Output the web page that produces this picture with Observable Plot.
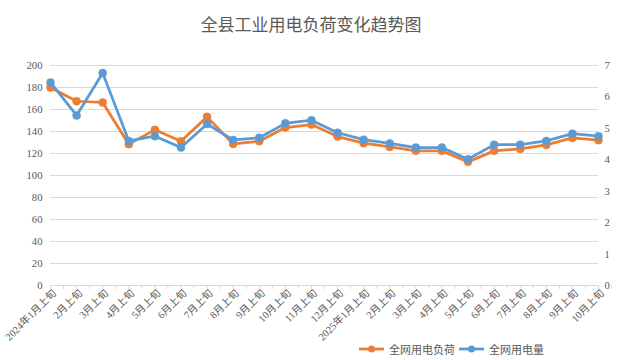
<!DOCTYPE html>
<html>
<head>
<meta charset="utf-8">
<script src="https://cdn.jsdelivr.net/npm/d3@7"></script>
<script src="https://cdn.jsdelivr.net/npm/@observablehq/plot@0.6"></script>
<style>
  body { margin: 0; background: #fff; }
  #wrap { position: relative; width: 622px; height: 360px; overflow: hidden; background: #fff; }
  #title { position: absolute; left: 0; width: 622px; top: 13px; text-align: center;
           font-family: "Noto Sans CJK SC", sans-serif; font-size: 17px; color: #595959; line-height: 22px; }
  #legend { position: absolute; top: 341px; left: 359px; display: flex; align-items: center;
            font-family: "Noto Sans CJK SC", sans-serif; font-size: 11px; color: #595959; line-height: 16px; }
  #legend .item { display: flex; align-items: center; margin-right: 4px; }
  #legend svg { margin-right: 5px; }
  #chart { position: absolute; left: 0; top: 0; }
</style>
</head>
<body>
<div id="wrap">
  <div id="chart"></div>
  <div id="title">全县工业用电负荷变化趋势图</div>
  <div id="legend"></div>
</div>
<script>
const categories = [
  "2024年1月上旬","2月上旬","3月上旬","4月上旬","5月上旬","6月上旬","7月上旬","8月上旬",
  "9月上旬","10月上旬","11月上旬","12月上旬",
  "2025年1月上旬","2月上旬","3月上旬","4月上旬","5月上旬","6月上旬","7月上旬","8月上旬",
  "9月上旬","10月上旬"
];
const loadValues = [180,167.5,166.4,128.5,141.5,131.2,153.3,128.7,131.2,143.6,146.3,135.4,129.4,126.0,122.4,122.4,112.4,122.4,124.2,127.8,134.2,132.1];
const energyValues = [6.46,5.41,6.76,4.60,4.75,4.39,5.14,4.63,4.70,5.16,5.26,4.86,4.64,4.52,4.39,4.39,4.02,4.48,4.48,4.60,4.83,4.75];
const leftTicks = [0,20,40,60,80,100,120,140,160,180,200];
const rightTicks = [0,1,2,3,4,5,6,7];
const seriesNames = ["全网用电负荷","全网用电量"];
const colors = ["#ED7D31","#5B9BD5"];

const leftMax = 200, rightMax = 7;
const k = leftMax / rightMax;
const idx = categories.map((c, i) => i);
const loadData = loadValues.map((v, i) => ({i, v}));
const energyData = energyValues.map((v, i) => ({i, v: v * k}));
const minorTicks = d3.range(0, categories.length - 0.5 + 0.01, 0.5);
const font = '"Liberation Serif", "Noto Sans CJK SC", serif';

const chart = Plot.plot({
  width: 622,
  height: 360,
  marginTop: 65,
  marginBottom: 75,
  marginLeft: 50,
  marginRight: 24,
  style: {fontFamily: font, fontSize: "10.7px", color: "#595959", background: "transparent"},
  x: {type: "linear", domain: [0, categories.length - 1]},
  y: {domain: [0, leftMax]},
  marks: [
    Plot.ruleY(leftTicks, {stroke: "#d9d9d9", strokeWidth: 1}),
    Plot.axisY(leftTicks, {anchor: "left", tickSize: 0, tickPadding: 8, fontSize: 10.7, label: null}),
    Plot.axisY(rightTicks.map(t => t * k), {anchor: "right", tickSize: 0, tickPadding: 6,
      tickFormat: d => String(Math.round(d / k)), fontSize: 10.7, label: null}),
    Plot.axisX(minorTicks, {anchor: "bottom", tickSize: 4, stroke: "#d9d9d9", tickFormat: () => "", label: null}),
    Plot.axisX(idx, {anchor: "bottom", tickSize: 0, tickPadding: 6, tickRotate: -45, dx: 4,
      tickFormat: i => categories[i], label: null, fontSize: 10.3}),
    Plot.line(loadData, {x: "i", y: "v", stroke: colors[0], strokeWidth: 2.75, strokeLinejoin: "round"}),
    Plot.dot(loadData, {x: "i", y: "v", r: 4, fill: colors[0], stroke: colors[0], strokeWidth: 0.5}),
    Plot.line(energyData, {x: "i", y: "v", stroke: colors[1], strokeWidth: 2.75, strokeLinejoin: "round"}),
    Plot.dot(energyData, {x: "i", y: "v", r: 4, fill: colors[1], stroke: colors[1], strokeWidth: 0.5})
  ]
});
document.getElementById("chart").appendChild(chart);

const legend = document.getElementById("legend");
seriesNames.forEach((name, j) => {
  const item = document.createElement("div");
  item.className = "item";
  item.innerHTML = `<svg width="25" height="10"><line x1="0" y1="5" x2="25" y2="5" stroke="${colors[j]}" stroke-width="2.75"/><circle cx="12.5" cy="5" r="3.5" fill="${colors[j]}"/></svg><span>${name}</span>`;
  legend.appendChild(item);
});
</script>
</body>
</html>
